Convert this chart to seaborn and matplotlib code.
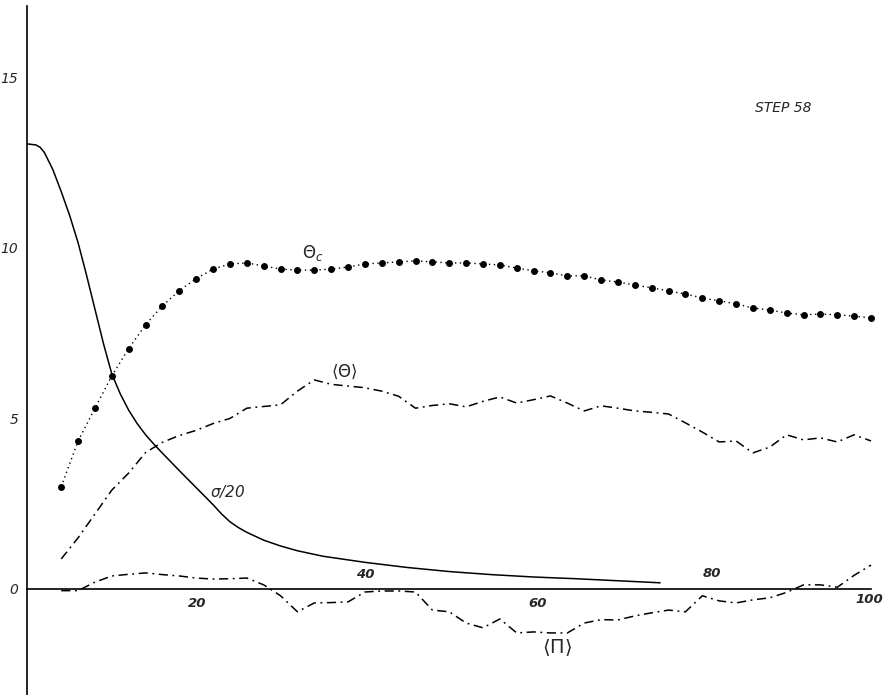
import matplotlib
matplotlib.use("Agg")
import matplotlib.pyplot as plt
import pandas as pd
import seaborn as sns

# sigma/20 profile (solid curve)
sigma_x = [0, 1, 1.5, 2, 3, 4, 5, 6, 7, 8, 9, 10, 11, 12, 13, 14, 15, 16, 18,
           20, 22, 23, 24, 25, 26, 28, 30, 32, 35, 40, 45, 50, 55, 60, 65, 70, 75]
sigma_y = [13.05, 13.02, 12.95, 12.8, 12.3, 11.65, 10.95, 10.15, 9.2, 8.2,
           7.2, 6.3, 5.72, 5.24, 4.85, 4.52, 4.24, 3.98, 3.47,
           2.97, 2.47, 2.2, 1.97, 1.8, 1.66, 1.43, 1.26, 1.12, 0.96, 0.78,
           0.63, 0.51, 0.42, 0.35, 0.3, 0.24, 0.18]

# common abscissa for the sampled profiles
grid_x = list(range(4, 101, 2))

theta_c = [3.0, 4.34, 5.3, 6.25, 7.05, 7.75, 8.3, 8.75, 9.1, 9.38,
           9.53, 9.56, 9.47, 9.38, 9.35, 9.35, 9.38, 9.44, 9.53, 9.56,
           9.59, 9.62, 9.59, 9.56, 9.56, 9.53, 9.5, 9.41, 9.33, 9.27,
           9.18, 9.18, 9.06, 9.0, 8.91, 8.83, 8.74, 8.65, 8.53, 8.45,
           8.36, 8.24, 8.18, 8.09, 8.04, 8.06, 8.04, 8.0, 7.95]

theta_mean = [0.88, 1.5, 2.2, 2.9, 3.4, 4.0, 4.3, 4.5, 4.65, 4.85,
              5.0, 5.3, 5.35, 5.4, 5.8, 6.13, 6.0, 5.95, 5.9, 5.8,
              5.65, 5.3, 5.38, 5.43, 5.34, 5.5, 5.63, 5.45, 5.55, 5.66,
              5.45, 5.22, 5.37, 5.3, 5.22, 5.18, 5.13, 4.87, 4.6, 4.31,
              4.34, 3.99, 4.16, 4.52, 4.37, 4.43, 4.31, 4.52, 4.34]

pi_mean = [-0.05, -0.05, 0.2, 0.38, 0.43, 0.47, 0.42, 0.38, 0.32, 0.29,
           0.3, 0.32, 0.12, -0.2, -0.67, -0.41, -0.4, -0.38, -0.09, -0.06,
           -0.06, -0.09, -0.62, -0.67, -1.0, -1.14, -0.88, -1.29, -1.26, -1.29,
           -1.29, -1.0, -0.9, -0.91, -0.79, -0.7, -0.62, -0.67, -0.2, -0.35,
           -0.41, -0.32, -0.26, -0.1, 0.12, 0.12, 0.05, 0.4, 0.7]

y_ticks = [0, 5, 10, 15]
x_ticks = [20, 40, 60, 80, 100]
x_tick_labels = ["20", "40", "60", "80", "100"]

sns.set_style("white")
plt.rcParams["font.family"] = ["DejaVu Sans"]

fig = plt.figure(figsize=(8.84, 6.95), dpi=100)
ax = fig.add_axes([0, 0, 1, 1])

sigma_df = pd.DataFrame({"x": sigma_x, "y": sigma_y})
prof_df = pd.DataFrame({"x": grid_x, "theta_c": theta_c,
                        "theta_mean": theta_mean, "pi_mean": pi_mean})

sns.lineplot(data=sigma_df, x="x", y="y", ax=ax, color="black", lw=1.1,
             sort=False, estimator=None)
sns.lineplot(data=prof_df, x="x", y="theta_c", ax=ax, color="black", lw=1.0,
             linestyle=(0, (1, 2.5)), marker="o", markersize=5,
             markeredgewidth=0, sort=False, estimator=None)
sns.lineplot(data=prof_df, x="x", y="theta_mean", ax=ax, color="black", lw=1.1,
             linestyle=(0, (6, 3, 1.2, 3)), sort=False, estimator=None)
sns.lineplot(data=prof_df, x="x", y="pi_mean", ax=ax, color="black", lw=1.1,
             linestyle=(0, (6, 3, 1.2, 3)), sort=False, estimator=None)

ax.set_xlim(-3.26, 101.54)
ax.set_ylim(-3.11, 17.27)
ax.set_xlabel("")
ax.set_ylabel("")

for side in ("top", "right"):
    ax.spines[side].set_visible(False)
ax.spines["left"].set_position(("data", 0))
ax.spines["bottom"].set_position(("data", 0))
ax.spines["left"].set_bounds(-3.11, 17.1)
ax.spines["bottom"].set_bounds(0, 100)
for side in ("left", "bottom"):
    ax.spines[side].set_color("black")
    ax.spines[side].set_linewidth(1.2)

ax.set_yticks(y_ticks)
ax.set_xticks(x_ticks)
ax.tick_params(axis="both", direction="inout", length=7, width=1,
               color="black", labelsize=10, pad=3)
ax.tick_params(axis="x", labelbottom=False)
for lab in ax.get_yticklabels():
    lab.set_fontstyle("italic")

# x tick labels alternate below / above the axis
label_y = {20: -0.44, 40: 0.42, 60: -0.42, 80: 0.44, 100: -0.3}
label_dx = {20: 0.1, 40: 0.0, 60: 0.5, 80: 1.2, 100: 0.0}
for xv, txt in zip(x_ticks, x_tick_labels):
    ha = "right" if xv == 100 else "center"
    xpos = 101.4 if xv == 100 else xv + label_dx[xv]
    ax.text(xpos, label_y[xv], txt, ha=ha, va="center",
            fontsize=9.5, fontstyle="italic", fontweight="bold")

# curve annotations
ax.text(32.5, 9.85, r"$\Theta_c$", ha="left", va="center", fontsize=12)
ax.text(37.6, 6.36, r"$\langle\Theta\rangle$", ha="center", va="center",
        fontsize=12)
ax.text(23.7, 2.87, r"$\sigma$/20", ha="center", va="center", fontsize=11,
        fontstyle="italic")
ax.text(62.8, -1.73, r"$\langle\Pi\rangle$", ha="center", va="center",
        fontsize=14)
ax.text(89.6, 14.1, "STEP 58", ha="center", va="center", fontsize=10,
        fontstyle="italic")

fig.savefig("out.png", dpi=100)
